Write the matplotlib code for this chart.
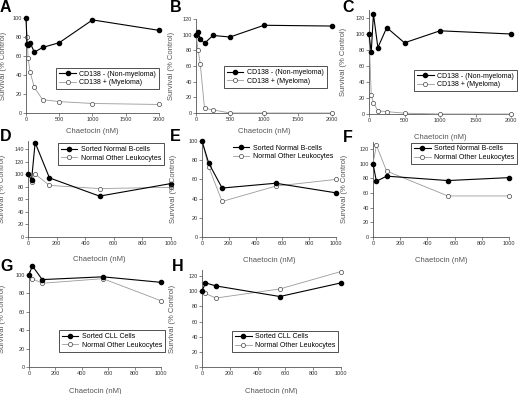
import matplotlib
matplotlib.use('Agg')
import matplotlib.pyplot as plt
import numpy as np

plt.rcParams['font.family'] = ['Liberation Sans', 'DejaVu Sans']

# ---- data ----
a_x = [0, 15.6, 31.25, 62.5, 125, 250, 500, 1000, 2000]
a_neg = [100, 73, 72, 74, 64, 69, 74, 98, 87]
a_pos = [100, 80, 58, 43, 27, 14, 12, 10, 9]

b_x = [0, 31.25, 62.5, 125, 250, 500, 1000, 2000]
b_neg = [100, 103, 95, 89, 99, 97, 112, 111]
b_pos = [100, 80, 63, 6, 4, 0, 0, 0]

c_x = [0, 31.25, 62.5, 125, 250, 500, 1000, 2000]
c_neg = [100, 77, 125, 83, 108, 89, 104, 100]
c_pos = [100, 24, 14, 4, 3, 1, 0, 0]

d_x = [0, 25, 50, 150, 500, 1000]
d_b = [100, 91, 150, 94, 65, 85]
d_other = [100, 88, 100, 82, 77, 79]

e_x = [0, 50, 150, 550, 1000]
e_b = [100, 77, 51, 56, 46]
e_other = [100, 73, 37, 53, 60]

f_x = [0, 25, 100, 550, 1000]
f_b = [100, 76, 83, 77, 81]
f_other = [100, 125, 90, 56, 56]

g_x = [0, 25, 100, 560, 1000]
g_cll = [100, 110, 95, 98, 92]
g_other = [100, 96, 91, 96, 72]

h_x = [0, 25, 100, 560, 1000]
h_cll = [100, 111, 107, 93, 111]
h_other = [100, 97, 91, 103, 126]

lab_myeloma = ['CD138 - (Non-myeloma)', 'CD138 + (Myeloma)']
lab_bcell = ['Sorted Normal B-cells', 'Normal Other Leukocytes']
lab_cll = ['Sorted CLL Cells', 'Normal Other Leukocytes']

W, H = 520, 394
fig = plt.figure(figsize=(W / 100, H / 100), dpi=100)


def panel(box, xlim, ylim, xticks, yticks, x, s1, s2, labels,
          leg_loc, leg_anchor, frame=True, ylab_dx=22, xlab_dy=18):
    l, r, bot, top = box
    ax = fig.add_axes([l / W, 1 - bot / H, (r - l) / W, (bot - top) / H])
    ax.plot(x, s1, color='k', lw=0.8, marker='o', ms=3.0,
            mfc='k', mec='k', clip_on=False, zorder=4, label=labels[0])
    ax.plot(x, s2, color='#9a9a9a', lw=0.6, marker='o', ms=3.0,
            mfc='white', mec='#444444', mew=0.5, clip_on=False, zorder=3,
            label=labels[1])
    ax.set_xlim(xlim)
    ax.set_ylim(ylim)
    ax.set_xticks(xticks)
    ax.set_yticks(yticks)
    for s in ['top', 'right']:
        ax.spines[s].set_visible(False)
    for s in ['left', 'bottom']:
        ax.spines[s].set_color('#555555')
        ax.spines[s].set_linewidth(0.6)
    ax.tick_params(direction='out', length=2, width=0.5, labelsize=4,
                   pad=1, colors='#555555', labelcolor='#333333')
    ax.set_ylabel('Survival (% Control)', fontsize=5.5, color='#555555')
    ax.set_xlabel('Chaetocin (nM)', fontsize=5.5, color='#555555')
    ax.yaxis.set_label_coords(-ylab_dx / (r - l), 0.5)
    ax.xaxis.set_label_coords(0.5, -xlab_dy / (bot - top))
    leg = ax.legend(loc=leg_loc, bbox_to_anchor=leg_anchor, fontsize=5,
                    frameon=frame, fancybox=False, borderpad=0.4,
                    handlelength=2.4, handletextpad=0.5, labelspacing=0.25,
                    borderaxespad=0)
    if frame:
        leg.get_frame().set_edgecolor('k')
        leg.get_frame().set_linewidth(0.6)
    return ax


tk2000 = [0, 500, 1000, 1500, 2000]
tk1000 = [0, 200, 400, 600, 800, 1000]

panel((26, 159, 113, 18), (0, 2000), (0, 100), tk2000, range(0, 101, 20),
      a_x, a_neg, a_pos, lab_myeloma, 'lower right', (1.0, 0.25),
      ylab_dx=19.5, xlab_dy=15)
panel((196, 332, 113, 19), (0, 2000), (0, 120), tk2000, range(0, 121, 20),
      b_x, b_neg, b_pos, lab_myeloma, 'lower right', (0.96, 0.27),
      ylab_dx=21, xlab_dy=15)
panel((369, 511, 114, 10), (0, 2000), (0, 130), tk2000, range(0, 121, 20),
      c_x, c_neg, c_pos, lab_myeloma, 'lower right', (1.04, 0.22),
      ylab_dx=22, xlab_dy=20)
panel((28, 171, 237, 141.4), (0, 1000), (0, 152), tk1000, range(0, 141, 20),
      d_x, d_b, d_other, lab_bcell, 'upper right', (0.95, 0.98),
      ylab_dx=22, xlab_dy=19)
panel((202, 336, 237, 141), (0, 1000), (0, 100), tk1000, range(0, 101, 20),
      e_x, e_b, e_other, lab_bcell, 'upper right', (1.0, 0.99),
      frame=False, ylab_dx=25, xlab_dy=20)
panel((373, 509, 237, 141.7), (0, 1000), (0, 130), tk1000, range(0, 121, 20),
      f_x, f_b, f_other, lab_bcell, 'upper right', (1.06, 0.99),
      ylab_dx=25, xlab_dy=20)
panel((29, 161, 367, 271.3), (0, 1000), (0, 104), tk1000, range(0, 101, 20),
      g_x, g_cll, g_other, lab_cll, 'lower right', (1.03, 0.16),
      ylab_dx=23, xlab_dy=21)
panel((202, 341, 367, 270), (0, 1000), (0, 128), tk1000, range(0, 121, 20),
      h_x, h_cll, h_other, lab_cll, 'lower right', (0.98, 0.155),
      ylab_dx=26, xlab_dy=21)

letters = [('A', 0, 0), ('B', 170, 0), ('C', 342, 0),
           ('D', 0, 129), ('E', 170, 129), ('F', 343, 130),
           ('G', 0, 259), ('H', 172, 259)]
for t, px, py in letters:
    fig.text(px / W, 1 - py / H, t, fontsize=11.5, fontweight='bold',
             va='top', ha='left')

fig.savefig('out.png', dpi=100)
